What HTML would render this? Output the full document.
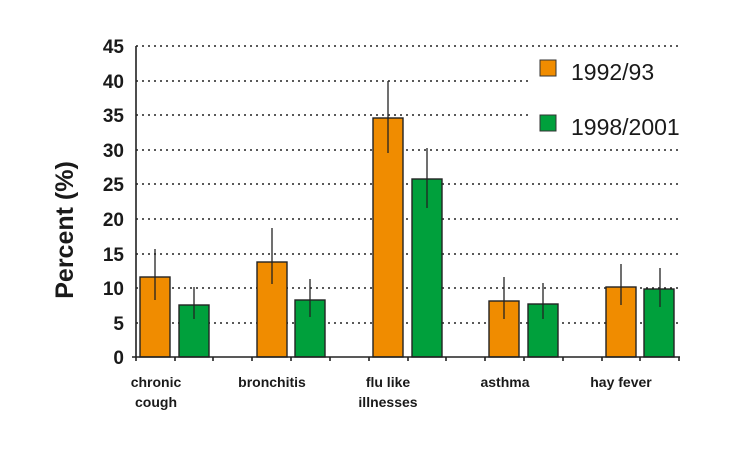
<!DOCTYPE html>
<html><head><style>body{margin:0;background:#fff}svg{display:block}</style></head><body>
<svg width="740" height="450" xmlns="http://www.w3.org/2000/svg" font-family="Liberation Sans, sans-serif">
<rect width="740" height="450" fill="#fff"/>
<g stroke="#222" stroke-width="1.6" stroke-dasharray="2,4">
<line x1="136" y1="46" x2="680" y2="46"/>
<line x1="136" y1="81" x2="680" y2="81"/>
<line x1="136" y1="115" x2="680" y2="115"/>
<line x1="136" y1="150" x2="680" y2="150"/>
<line x1="136" y1="184" x2="680" y2="184"/>
<line x1="136" y1="219" x2="680" y2="219"/>
<line x1="136" y1="254" x2="680" y2="254"/>
<line x1="136" y1="288" x2="680" y2="288"/>
<line x1="136" y1="323" x2="680" y2="323"/>
</g>
<rect x="530" y="55" width="150" height="90" fill="#fff"/>
<g font-weight="bold" font-size="19" fill="#1a1a1a" text-anchor="end">
<text x="124" y="53">45</text><text x="124" y="88">40</text><text x="124" y="122">35</text>
<text x="124" y="157">30</text><text x="124" y="191">25</text><text x="124" y="226">20</text>
<text x="124" y="261">15</text><text x="124" y="295">10</text><text x="124" y="330">5</text>
<text x="124" y="364">0</text>
</g>
<g stroke="#222" stroke-width="1.4">
<rect x="140" y="277" width="30" height="80" fill="#f08c00"/>
<rect x="179" y="305" width="30" height="52" fill="#00a03c"/>
<rect x="257" y="262" width="30" height="95" fill="#f08c00"/>
<rect x="295" y="300" width="30" height="57" fill="#00a03c"/>
<rect x="373" y="118" width="30" height="239" fill="#f08c00"/>
<rect x="412" y="179" width="30" height="178" fill="#00a03c"/>
<rect x="489" y="301" width="30" height="56" fill="#f08c00"/>
<rect x="528" y="304" width="30" height="53" fill="#00a03c"/>
<rect x="606" y="287" width="30" height="70" fill="#f08c00"/>
<rect x="644" y="289" width="30" height="68" fill="#00a03c"/>
</g>
<g stroke="#222" stroke-width="1.3">
<line x1="155" y1="249" x2="155" y2="300"/>
<line x1="194" y1="287" x2="194" y2="319"/>
<line x1="272" y1="228" x2="272" y2="284"/>
<line x1="310" y1="279" x2="310" y2="317"/>
<line x1="388" y1="81" x2="388" y2="153"/>
<line x1="427" y1="148" x2="427" y2="208"/>
<line x1="504" y1="277" x2="504" y2="319"/>
<line x1="543" y1="283" x2="543" y2="319"/>
<line x1="621" y1="264" x2="621" y2="305"/>
<line x1="660" y1="268" x2="660" y2="307"/>
</g>
<g stroke="#222" stroke-width="1.6">
<line x1="136" y1="46" x2="136" y2="361"/>
<line x1="132" y1="357" x2="680" y2="357"/>
<line x1="175" y1="357" x2="175" y2="361"/><line x1="213" y1="357" x2="213" y2="361"/>
<line x1="252" y1="357" x2="252" y2="361"/><line x1="291" y1="357" x2="291" y2="361"/>
<line x1="330" y1="357" x2="330" y2="361"/><line x1="369" y1="357" x2="369" y2="361"/>
<line x1="408" y1="357" x2="408" y2="361"/><line x1="446" y1="357" x2="446" y2="361"/>
<line x1="485" y1="357" x2="485" y2="361"/><line x1="524" y1="357" x2="524" y2="361"/>
<line x1="563" y1="357" x2="563" y2="361"/><line x1="602" y1="357" x2="602" y2="361"/>
<line x1="640" y1="357" x2="640" y2="361"/><line x1="679" y1="357" x2="679" y2="361"/>
</g>
<g font-weight="bold" font-size="14" fill="#1a1a1a" text-anchor="middle">
<text x="156" y="387">chronic</text><text x="156" y="407">cough</text>
<text x="272" y="387">bronchitis</text>
<text x="388" y="387">flu like</text><text x="388" y="407">illnesses</text>
<text x="505" y="387">asthma</text>
<text x="621" y="387">hay fever</text>
</g>
<text transform="translate(73,230) rotate(-90)" text-anchor="middle" font-weight="bold" font-size="25" fill="#1a1a1a">Percent (%)</text>
<rect x="540" y="60" width="16" height="16" fill="#f08c00" stroke="#333"/>
<rect x="540" y="115" width="16" height="16" fill="#00a03c" stroke="#333"/>
<g font-size="23" fill="#1a1a1a"><text x="571" y="80">1992/93</text><text x="571" y="135">1998/2001</text></g>
</svg>
</body></html>
